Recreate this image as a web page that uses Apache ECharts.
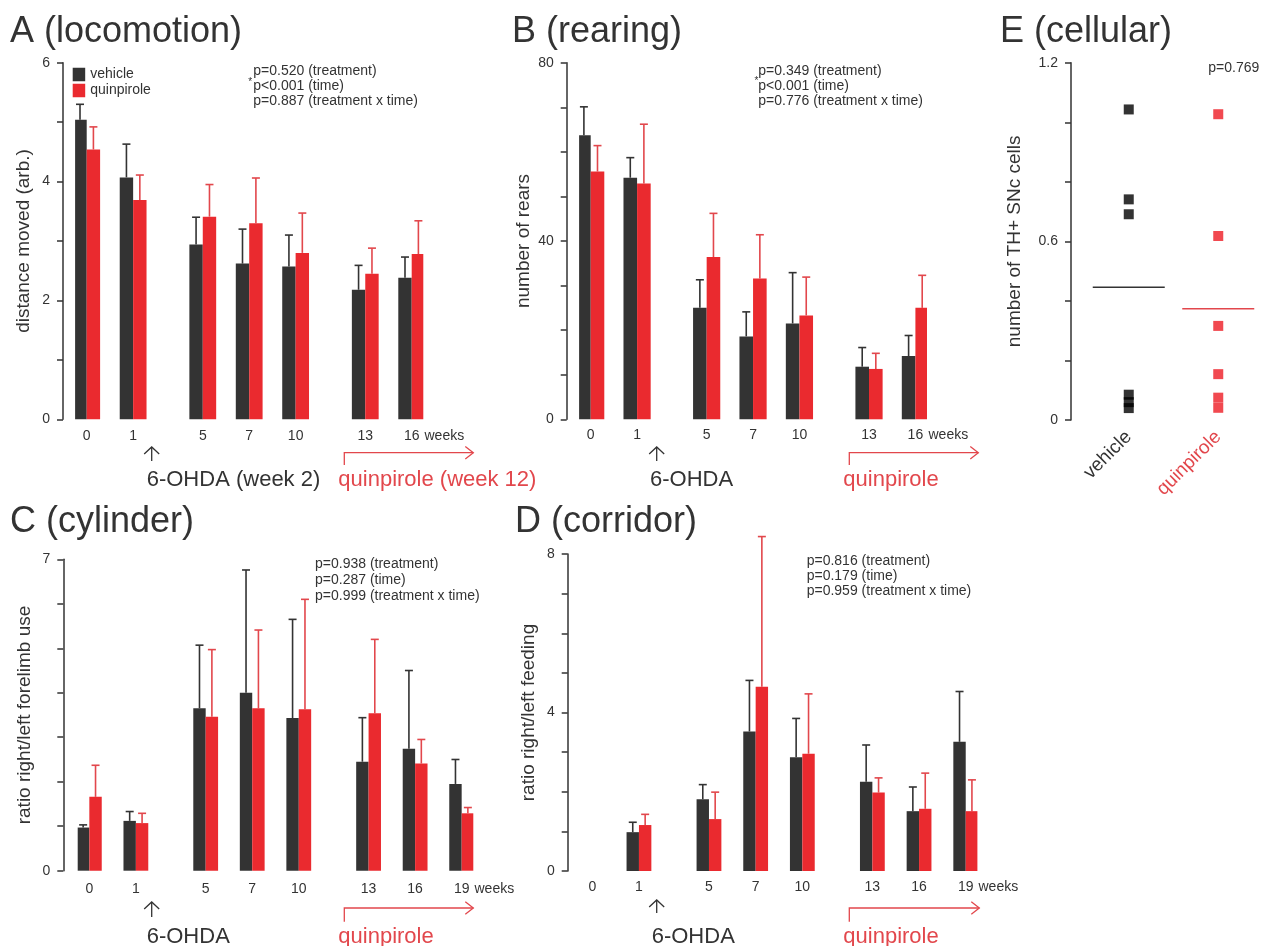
<!DOCTYPE html>
<html><head><meta charset="utf-8">
<script src="https://cdn.jsdelivr.net/npm/echarts@6/dist/echarts.min.js"></script>
<style>html,body{margin:0;padding:0;background:#fff}#c{width:1263px;height:946px}</style>
</head><body><div id="c"></div>
<script>
// ---- data ----
const slotsAB = ['0','','1','','','5','','7','','10','','','13','','16'];
const slotsCD = ['0','','1','','','5','','7','','10','','','13','','16','','19'];
const weeksAB = ['0','1','5','7','10','13','16'];
const weeksCD = ['0','1','5','7','10','13','16','19'];

const locoVeh    = [5.04, 4.07, 2.94, 2.62, 2.57, 2.18, 2.38];
const locoVehErr = [0.26, 0.56, 0.46, 0.58, 0.53, 0.41, 0.35];
const locoQui    = [4.54, 3.69, 3.41, 3.30, 2.80, 2.45, 2.78];
const locoQuiErr = [0.38, 0.42, 0.54, 0.76, 0.67, 0.43, 0.56];

const rearVeh    = [63.7, 54.2, 25.0, 18.6, 21.5, 11.8, 14.2];
const rearVehErr = [6.4, 4.5, 6.3, 5.5, 11.4, 4.3, 4.6];
const rearQui    = [55.6, 52.9, 36.4, 31.6, 23.3, 11.3, 25.0];
const rearQuiErr = [5.8, 13.3, 9.8, 9.8, 8.6, 3.5, 7.3];

const cylVeh    = [0.97, 1.12, 3.65, 4.00, 3.43, 2.45, 2.74, 1.95];
const cylVehErr = [0.06, 0.21, 1.42, 2.76, 2.22, 0.99, 1.76, 0.55];
const cylQui    = [1.66, 1.07, 3.46, 3.65, 3.63, 3.54, 2.41, 1.29];
const cylQuiErr = [0.71, 0.22, 1.51, 1.76, 2.47, 1.66, 0.54, 0.13];

const corVeh    = [null, 0.98, 1.81, 3.52, 2.87, 2.25, 1.51, 3.26];
const corVehErr = [null, 0.25, 0.37, 1.29, 0.98, 0.93, 0.61, 1.27];
const corQui    = [null, 1.16, 1.31, 4.65, 2.96, 1.98, 1.57, 1.51];
const corQuiErr = [null, 0.27, 0.68, 3.79, 1.51, 0.37, 0.90, 0.79];

const cellGroups = ['vehicle', 'quinpirole'];
const cellVeh = [1.043, 0.741, 0.691, 0.085, 0.06, 0.04];
const cellQui = [1.027, 0.618, 0.316, 0.154, 0.075, 0.041];
const cellMean = [0.446, 0.374];

const ticksA = [0, 2, 4, 6];
const ticksB = [0, 40, 80];
const ticksC = [0, 7];
const ticksD = [0, 4, 8];
const ticksE = [0, 0.6, 1.2];

// ---- style ----
const BLACK = '#333333', RED = '#ea2a2f', RED_T = '#e2474c', TXT = '#333333';
const FONT = '"Liberation Sans", Arial, Helvetica, sans-serif';

function slotData(slots, weeks, vals) {
  return slots.map(s => { if (s === '') return null; const i = weeks.indexOf(s); return i < 0 ? null : vals[i]; });
}
function errData(slots, weeks, vals, errs) {
  const out = [];
  weeks.forEach((w, i) => { if (vals[i] != null) out.push([slots.indexOf(w), vals[i], errs[i]]); });
  return out;
}
function errRender(sign, bw, color) {
  return function (params, api) {
    const x = api.value(0), m = api.value(1), e = api.value(2);
    const p0 = api.coord([x, m]), p1 = api.coord([x, m + e]);
    const cx = p0[0] + sign * bw / 2;
    return { type: 'group', children: [
      { type: 'line', shape: { x1: cx, y1: p0[1], x2: cx, y2: p1[1] }, style: { stroke: color, lineWidth: 1.6 } },
      { type: 'line', shape: { x1: cx - 4, y1: p1[1], x2: cx + 4, y2: p1[1] }, style: { stroke: color, lineWidth: 1.6 } }
    ]};
  };
}
function tickFmt(list) {
  return v => { const l = list.find(t => Math.abs(t - v) < 1e-6); return l === undefined ? '' : String(l); };
}

const panels = [
  { grid: { left: 75.1, top: 62.7, width: 348.2, height: 356.6 }, axisX: 63, slots: slotsAB, weeks: weeksAB,
    veh: locoVeh, vehErr: locoVehErr, qui: locoQui, quiErr: locoQuiErr, max: 6, interval: 1, ticks: ticksA,
    name: 'distance moved (arb.)', nameGap: 30, bw: 13.4, margin: 10 },
  { grid: { left: 579.1, top: 62.7, width: 347.9, height: 356.6 }, axisX: 566.7, slots: slotsAB, weeks: weeksAB,
    veh: rearVeh, vehErr: rearVehErr, qui: rearQui, quiErr: rearQuiErr, max: 80, interval: 10, ticks: ticksB,
    name: 'number of rears', nameGap: 33, bw: 13.6, margin: 9 },
  { grid: { left: 77.7, top: 559.3, width: 395.6, height: 311.4 }, axisX: 63.3, slots: slotsCD, weeks: weeksCD,
    veh: cylVeh, vehErr: cylVehErr, qui: cylQui, quiErr: cylQuiErr, max: 7, interval: 1, ticks: ticksC,
    name: 'ratio right/left forelimb use', nameGap: 29.5, bw: 12.4, margin: 11 },
  { grid: { left: 580.6, top: 554, width: 396.8, height: 317 }, axisX: 567.7, slots: slotsCD, weeks: weeksCD,
    veh: corVeh, vehErr: corVehErr, qui: corQui, quiErr: corQuiErr, max: 8, interval: 1, ticks: ticksD,
    name: 'ratio right/left feeding', nameGap: 29.5, bw: 12.4, margin: 9 }
];

const grids = [], xAxes = [], yAxes = [], series = [];
function yAxisCfg(i, p) {
  return { type: 'value', gridIndex: i, min: 0, max: p.max, interval: p.interval, offset: p.grid.left - p.axisX,
    axisLine: { show: true, lineStyle: { color: BLACK, width: 1.5 } },
    axisTick: { show: true, length: 6, lineStyle: { color: BLACK, width: 1.5 } },
    splitLine: { show: false },
    axisLabel: { fontSize: 14, color: TXT, fontFamily: FONT, margin: 13, formatter: tickFmt(p.ticks) },
    name: p.name, nameLocation: 'middle', nameGap: p.nameGap,
    nameTextStyle: { fontSize: 19, color: TXT, fontFamily: FONT } };
}
panels.forEach((p, i) => {
  grids.push(p.grid);
  xAxes.push({ type: 'category', gridIndex: i, data: p.slots,
    axisLine: { show: false }, axisTick: { show: false }, splitLine: { show: false },
    axisLabel: { interval: 0, fontSize: 14, color: TXT, fontFamily: FONT, margin: p.margin } });
  yAxes.push(yAxisCfg(i, p));
  series.push({ type: 'bar', name: 'vehicle', xAxisIndex: i, yAxisIndex: i, barWidth: p.bw, barGap: '0%',
    itemStyle: { color: BLACK }, data: slotData(p.slots, p.weeks, p.veh), silent: true });
  series.push({ type: 'bar', name: 'quinpirole', xAxisIndex: i, yAxisIndex: i, barWidth: p.bw, barGap: '0%',
    itemStyle: { color: RED }, data: slotData(p.slots, p.weeks, p.qui), silent: true });
  series.push({ type: 'custom', name: 'errV' + i, xAxisIndex: i, yAxisIndex: i, z: 1, silent: true,
    renderItem: errRender(-1, p.bw, BLACK), data: errData(p.slots, p.weeks, p.veh, p.vehErr) });
  series.push({ type: 'custom', name: 'errQ' + i, xAxisIndex: i, yAxisIndex: i, z: 1, silent: true,
    renderItem: errRender(1, p.bw, RED_T), data: errData(p.slots, p.weeks, p.qui, p.quiErr) });
});

// panel E
const pE = { grid: { left: 1084, top: 62.7, width: 188, height: 357.3 }, axisX: 1071, max: 1.2, interval: 0.2,
  ticks: ticksE, name: 'number of TH+ SNc cells', nameGap: 46.5 };
grids.push(pE.grid);
xAxes.push({ type: 'category', gridIndex: 4, data: cellGroups,
  axisLine: { show: false }, axisTick: { show: false }, splitLine: { show: false },
  axisLabel: { interval: 0, rotate: 45, fontSize: 19, fontFamily: FONT, margin: 14,
    color: (v, i) => (v === 'vehicle' ? TXT : RED_T) } });
yAxes.push(yAxisCfg(4, pE));
series.push({ type: 'scatter', name: 'cellVeh', xAxisIndex: 4, yAxisIndex: 4, symbol: 'rect', symbolSize: 10,
  itemStyle: { color: '#000000' }, data: cellVeh.map(v => [0, v]), silent: true });
series.push({ type: 'scatter', name: 'cellQui', xAxisIndex: 4, yAxisIndex: 4, symbol: 'rect', symbolSize: 10,
  itemStyle: { color: '#ee1c24' }, data: cellQui.map(v => [1, v]), silent: true });
series.push({ type: 'custom', name: 'cellMean', xAxisIndex: 4, yAxisIndex: 4, silent: true,
  data: cellMean.map((m, i) => [i, m]),
  renderItem: (params, api) => {
    const p = api.coord([api.value(0), api.value(1)]);
    return { type: 'line', shape: { x1: p[0] - 36, y1: p[1], x2: p[0] + 36, y2: p[1] },
      style: { stroke: api.value(0) === 0 ? BLACK : RED_T, lineWidth: 1.5 } };
  } });

// ---- annotations ----
function txt(x, y, text, size, color) {
  return { type: 'text', x: x, y: y, silent: true,
    style: { text: text, fill: color || TXT, font: size + 'px ' + FONT, align: 'left', verticalAlign: 'middle' } };
}
function pl(points, color) {
  return { type: 'polyline', silent: true, shape: { points: points }, style: { stroke: color, lineWidth: 1.3, fill: null } };
}
function upArrow(x, y1, y2) {
  return [pl([[x, y2], [x, y1]], BLACK), pl([[x - 7.5, y1 + 7], [x, y1], [x + 7.5, y1 + 7]], BLACK)];
}
function bracket(x1, x2, y, y2) {
  return [pl([[x1, y2], [x1, y], [x2, y]], RED_T), pl([[x2 - 8, y - 6.3], [x2, y], [x2 - 8, y + 6.3]], RED_T)];
}
const graphics = [
  txt(10, 32.4, 'A (locomotion)', 36), txt(512, 32.4, 'B (rearing)', 36), txt(1000, 32.4, 'E (cellular)', 36),
  txt(10, 522, 'C (cylinder)', 36), txt(515, 522, 'D (corridor)', 36),
  txt(253.3, 71.5, 'p=0.520 (treatment)', 14), txt(253.3, 86.5, 'p<0.001 (time)', 14),
  txt(253.3, 101.5, 'p=0.887 (treatment x time)', 14), txt(248.3, 82, '*', 10),
  txt(758.3, 71.5, 'p=0.349 (treatment)', 14), txt(758.3, 86.5, 'p<0.001 (time)', 14),
  txt(758.3, 101.5, 'p=0.776 (treatment x time)', 14), txt(754.5, 81, '*', 10),
  txt(315, 564.3, 'p=0.938 (treatment)', 14), txt(315, 580, 'p=0.287 (time)', 14),
  txt(315, 595.7, 'p=0.999 (treatment x time)', 14),
  txt(806.7, 560.7, 'p=0.816 (treatment)', 14), txt(806.7, 575.7, 'p=0.179 (time)', 14),
  txt(806.7, 591, 'p=0.959 (treatment x time)', 14),
  txt(1208.3, 68.3, 'p=0.769', 14),
  txt(424.5, 436, 'weeks', 14), txt(928.5, 435, 'weeks', 14), txt(474.5, 889, 'weeks', 14), txt(978.5, 887, 'weeks', 14),
  txt(146.7, 480, '6-OHDA (week 2)', 22), txt(338.3, 480, 'quinpirole (week 12)', 22, RED_T),
  txt(650, 480, '6-OHDA', 22), txt(843.3, 480, 'quinpirole', 22, RED_T),
  txt(146.7, 937, '6-OHDA', 22), txt(338.3, 937, 'quinpirole', 22, RED_T),
  txt(651.7, 937, '6-OHDA', 22), txt(843.3, 937, 'quinpirole', 22, RED_T)
].concat(
  upArrow(151.7, 447, 461), upArrow(656.7, 447, 461), upArrow(151.7, 902, 917), upArrow(656.7, 900, 913),
  bracket(344.3, 473.3, 452.7, 465), bracket(849.3, 978.3, 452.7, 465),
  bracket(344.3, 473.3, 908, 921.7), bracket(849.3, 979.3, 908, 921.7)
);

const chart = echarts.init(document.getElementById('c'), null, { renderer: 'canvas' });
chart.setOption({
  animation: false,
  backgroundColor: '#ffffff',
  textStyle: { fontFamily: FONT },
  legend: { data: ['vehicle', 'quinpirole'], orient: 'vertical', left: 72.7, top: 67.5, padding: 0,
    icon: 'rect', itemWidth: 12.5, itemHeight: 13.5, itemGap: 2, selectedMode: false,
    textStyle: { fontSize: 14, color: TXT, fontFamily: FONT } },
  grid: grids, xAxis: xAxes, yAxis: yAxes, series: series, graphic: graphics
});
</script></body></html>
